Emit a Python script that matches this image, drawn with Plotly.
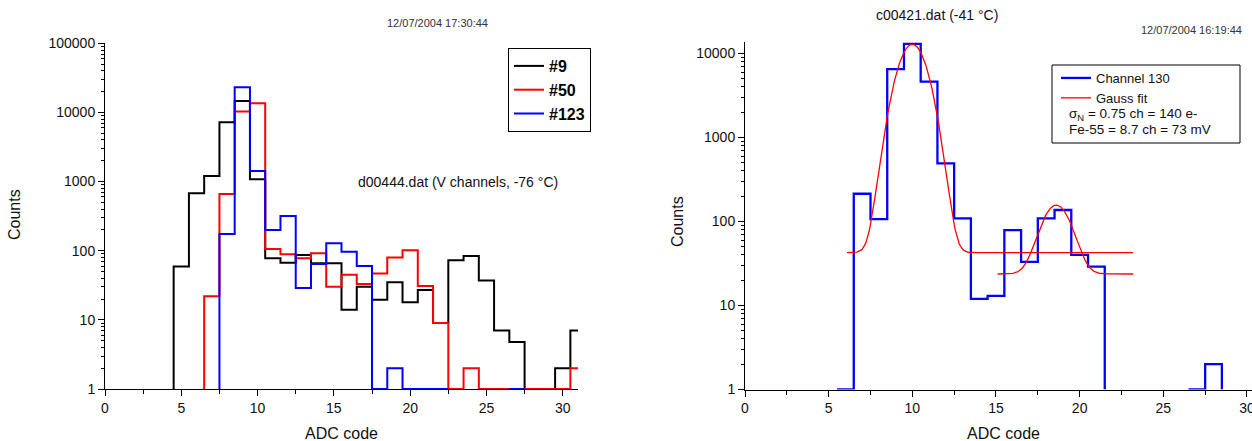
import numpy as np
import plotly.graph_objects as go

W, H = 1252, 441
FONT = "Liberation Sans, Arial, sans-serif"

# ---------------- data ----------------
# Left panel: d00444.dat, counts per ADC-code bin (bin centres)
left_bins_9 = list(range(5, 32))
left_counts_9 = [59, 680, 1200, 7200, 14600, 1080, 78, 67, 87, 66, 66, 14, 30, 19.5, 35,
                 18, 27, 9, 73, 84, 37, 7, 4.8, 1, 1, 2, 7]
left_bins_50 = list(range(7, 32))
left_counts_50 = [22, 660, 10300, 13600, 106, 89, 78, 92, 30, 45, 33, 47, 80, 102, 31,
                  9, 1, 2, 1, 1, 1, 1, 1, 1, 2]
left_bins_123 = list(range(8, 28))
left_counts_123 = [174, 23100, 1420, 200, 318, 29, 64, 128, 97, 60, 1, 2, 1, 1, 1,
                   None, None, None, None, 1]
left_names = ["#9", "#50", "#123"]

# Right panel: c00421.dat, channel 130
right_bins = list(range(6, 29))
right_counts = [1, 214, 107, 6500, 13000, 4620, 493, 109, 12, 13, 79, 33, 109, 137, 40, 29,
                None, None, None, None, None, 1, 2]

# Gauss fits (centre, sigma, amplitude, baseline, x-start, x-end)
fit_centres = [10.0, 18.6]
fit_sigmas = [0.75, 0.77]
fit_amps = [12840, 133]
fit_bases = [42.5, 23.7]
fit_x_start = [6.1, 15.1]
fit_x_end = [23.2, 23.2]

y_tick_vals_left = [1, 10, 100, 1000, 10000, 100000]
y_tick_vals_right = [1, 10, 100, 1000, 10000]
x_tick_vals = [0, 5, 10, 15, 20, 25, 30]


def step_path(bins, counts, base=1):
    xs, ys, run = [], [], []

    def flush():
        if run:
            xs.extend([run[0][0] - 0.5] + [b - 0.5 for b, _ in run] + [run[-1][0] + 0.5, None])
            ys.extend([base] + [c for _, c in run] + [base, None])
            run.clear()

    for b, c in zip(bins, counts):
        if c is None:
            flush()
        else:
            run.append((b, c))
    flush()
    return xs, ys


fig = go.Figure()

colors_left = ["#000000", "#ff0000", "#0000ff"]
for bins, counts, name, col in zip([left_bins_9, left_bins_50, left_bins_123],
                                   [left_counts_9, left_counts_50, left_counts_123],
                                   left_names, colors_left):
    xs, ys = step_path(bins, counts)
    fig.add_trace(go.Scatter(x=xs, y=ys, mode="lines", name=name, line_shape="hv",
                             line=dict(color=col, width=2), xaxis="x", yaxis="y",
                             legend="legend", connectgaps=False))

xs, ys = step_path(right_bins, right_counts)
fig.add_trace(go.Scatter(x=xs, y=ys, mode="lines", name="Channel 130", line_shape="hv",
                         line=dict(color="#0000ff", width=2.3), xaxis="x2", yaxis="y2",
                         legend="legend2", connectgaps=False))

for i, (c, s, a, b, x0, x1) in enumerate(zip(fit_centres, fit_sigmas, fit_amps, fit_bases,
                                             fit_x_start, fit_x_end)):
    xf = np.linspace(x0, x1, 300)
    yf = b + a * np.exp(-0.5 * ((xf - c) / s) ** 2)
    fig.add_trace(go.Scatter(x=xf, y=yf, mode="lines", name="Gauss fit",
                             line=dict(color="#ff0000", width=1.3), xaxis="x2", yaxis="y2",
                             legend="legend2", showlegend=(i == 0)))


def minor_logs(ndec):
    return [m * 10 ** d for d in range(ndec) for m in range(2, 10)]


axis_common = dict(showgrid=False, zeroline=False, showline=True, linecolor="black",
                   linewidth=1, ticks="outside", tickcolor="black", tickwidth=1,
                   automargin=False, ticklabeloverflow="allow",
                   tickfont=dict(family=FONT, size=14, color="#111"))

fig.update_layout(
    template="none",
    width=W, height=H,
    margin=dict(l=0, r=0, t=0, b=0, pad=0, autoexpand=False),
    paper_bgcolor="white", plot_bgcolor="white",
    font=dict(family=FONT, color="#111"),
    xaxis=dict(domain=[105 / W, 578 / W], range=[0, 31], anchor="y",
               tickvals=x_tick_vals, ticklen=6,
               minor=dict(dtick=2.5, tick0=0, ticks="outside", ticklen=4, tickcolor="black"),
               **axis_common),
    yaxis=dict(domain=[(H - 389) / H, (H - 43.3) / H], type="log", range=[0, 5], anchor="x",
               tickvals=y_tick_vals_left, ticktext=[str(v) for v in y_tick_vals_left], ticklen=6,
               minor=dict(tickvals=minor_logs(5), ticks="outside", ticklen=3, tickcolor="black"),
               **axis_common),
    xaxis2=dict(domain=[745 / W, 1.0], range=[0, 30.3], anchor="y2",
                tickvals=x_tick_vals, ticklen=6,
                minor=dict(dtick=2.5, tick0=0, ticks="outside", ticklen=4, tickcolor="black"),
                **axis_common),
    yaxis2=dict(domain=[(H - 389.5) / H, (H - 42) / H], type="log", range=[0, 4.137], anchor="x2",
                tickvals=y_tick_vals_right, ticktext=[str(v) for v in y_tick_vals_right], ticklen=6,
                minor=dict(tickvals=minor_logs(5), ticks="outside", ticklen=3, tickcolor="black"),
                **axis_common),
    legend=dict(x=508 / W, y=1 - 48 / H, xanchor="left", yanchor="top",
                bordercolor="black", borderwidth=1, bgcolor="white",
                font=dict(family=FONT, size=16, color="#000", weight="bold"),
                tracegroupgap=0, itemwidth=30),
    legend2=dict(x=1056 / W, y=1 - 63 / H, xanchor="left", yanchor="top",
                 borderwidth=0, bgcolor="rgba(0,0,0,0)",
                 font=dict(family=FONT, size=13, color="#111"),
                 tracegroupgap=0, itemwidth=30),
    showlegend=True,
)

fig.add_shape(type="rect", xref="paper", yref="paper",
              x0=1052 / W, x1=1240 / W, y0=1 - 143 / H, y1=1 - 65 / H,
              line=dict(color="black", width=1), fillcolor="rgba(0,0,0,0)")


def ann(text, x, y, size, xanchor="center", angle=0, color="#111"):
    fig.add_annotation(text=text, x=x / W, y=1 - y / H, xref="paper", yref="paper",
                       xanchor=xanchor, yanchor="middle", showarrow=False, textangle=angle,
                       font=dict(family=FONT, size=size, color=color))


ann("12/07/2004 17:30:44", 437.5, 23, 11, color="#333")
ann("d00444.dat (V channels, -76 °C)", 458, 182, 14)
ann("c00421.dat (-41 °C)", 936.5, 15, 14)
ann("12/07/2004 16:19:44", 1191.5, 30, 11, color="#333")
ann("σ<sub>N</sub> = 0.75 ch = 140 e-", 1067, 114, 13.5, xanchor="left")
ann("Fe-55 = 8.7 ch = 73 mV", 1067, 129, 13.5, xanchor="left")
ann("Counts", 15, 215, 16, angle=-90)
ann("Counts", 677, 222, 16, angle=-90)
ann("ADC code", 341, 433, 16)
ann("ADC code", 1003, 433, 16)

fig.write_html("out.html", config={"displayModeBar": False},
               post_script="document.body.style.margin='0px';document.body.style.padding='0px';")
